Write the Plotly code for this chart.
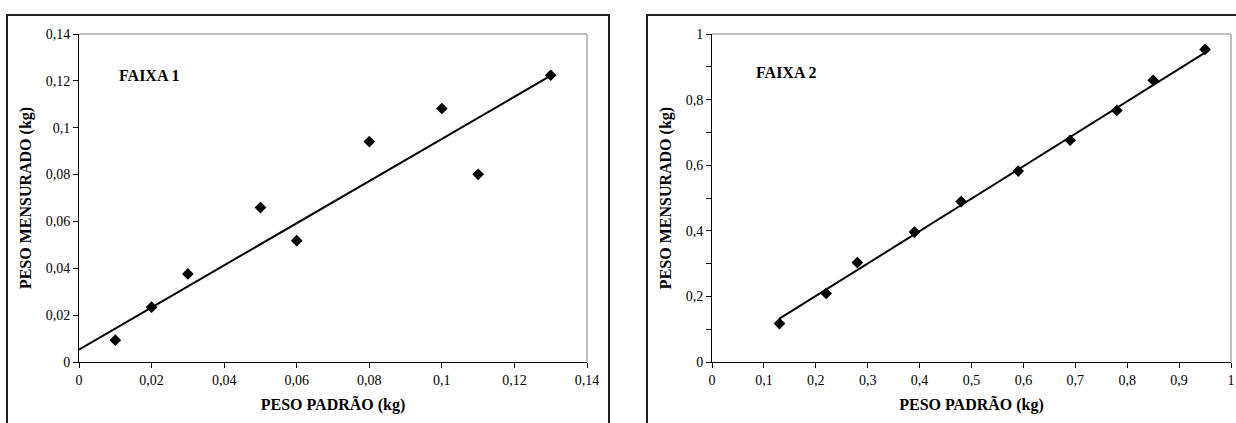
import plotly.graph_objects as go

W, H = 1236, 423

# ---- data ----
f1_padrao = [0.01, 0.02, 0.03, 0.05, 0.06, 0.08, 0.10, 0.11, 0.13]
f1_mensurado = [0.0093, 0.0234, 0.0376, 0.0659, 0.0518, 0.0941, 0.1082, 0.0801, 0.1224]
f1_trend_x = [0.0, 0.13]
f1_trend_y = [0.0053, 0.1222]

f2_padrao = [0.13, 0.22, 0.28, 0.39, 0.48, 0.59, 0.69, 0.78, 0.85, 0.95]
f2_mensurado = [0.117, 0.209, 0.303, 0.396, 0.489, 0.582, 0.676, 0.767, 0.859, 0.953]
f2_trend_x = [0.13, 0.95]
f2_trend_y = [0.132, 0.943]

f1_ticks = [0, 0.02, 0.04, 0.06, 0.08, 0.10, 0.12, 0.14]
f1_ticktext = ["0", "0,02", "0,04", "0,06", "0,08", "0,1", "0,12", "0,14"]
f2_xticks = [0, 0.1, 0.2, 0.3, 0.4, 0.5, 0.6, 0.7, 0.8, 0.9, 1.0]
f2_xticktext = ["0", "0,1", "0,2", "0,3", "0,4", "0,5", "0,6", "0,7", "0,8", "0,9", "1"]
f2_yticks = [0, 0.2, 0.4, 0.6, 0.8, 1.0]
f2_yticktext = ["0", "0,2", "0,4", "0,6", "0,8", "1"]
f2_yminor = [0.1, 0.3, 0.5, 0.7, 0.9]

x_title = "PESO PADRÃO (kg)"
y_title = "PESO MENSURADO (kg)"
labels = ["FAIXA 1", "FAIXA 2"]

FONT = "Liberation Serif"


def px(x):
    return x / W


def py(y):
    return 1 - y / H


fig = go.Figure()
marker = dict(symbol="diamond", size=9, color="black")
line = dict(color="black", width=2)

fig.add_trace(go.Scatter(x=f1_padrao, y=f1_mensurado, mode="markers", marker=marker,
                         xaxis="x", yaxis="y", showlegend=False))
fig.add_trace(go.Scatter(x=f1_trend_x, y=f1_trend_y, mode="lines", line=line,
                         xaxis="x", yaxis="y", showlegend=False))
fig.add_trace(go.Scatter(x=f2_padrao, y=f2_mensurado, mode="markers", marker=marker,
                         xaxis="x2", yaxis="y2", showlegend=False))
fig.add_trace(go.Scatter(x=f2_trend_x, y=f2_trend_y, mode="lines", line=line,
                         xaxis="x2", yaxis="y2", showlegend=False))

tickfont = dict(family=FONT, size=14, color="black")
titlefont = dict(family=FONT, size=16, color="black", weight="bold")

common = dict(showgrid=False, zeroline=False, showline=True, linecolor="black", linewidth=1,
              ticks="outside", ticklen=5, tickcolor="black", tickwidth=1,
              tickfont=tickfont, automargin=False, mirror=False,
              ticklabeloverflow="allow")

ydom = [py(362), py(34)]

fig.update_layout(
    width=W, height=H,
    margin=dict(l=0, r=0, t=0, b=0),
    paper_bgcolor="white", plot_bgcolor="white",
    font=dict(family=FONT, color="black"),
    xaxis=dict(domain=[px(79), px(587)], range=[0, 0.14], tickmode="array",
               tickvals=f1_ticks, ticktext=f1_ticktext,
               title=dict(text=x_title, font=titlefont, standoff=12), anchor="y", **common),
    yaxis=dict(domain=ydom, range=[0, 0.14], tickmode="array",
               tickvals=f1_ticks, ticktext=f1_ticktext,
               title=dict(text=y_title, font=titlefont, standoff=10), anchor="x", **common),
    xaxis2=dict(domain=[px(712), px(1231)], range=[0, 1], tickmode="array",
                tickvals=f2_xticks, ticktext=f2_xticktext,
                title=dict(text=x_title, font=titlefont, standoff=12), anchor="y2", **common),
    yaxis2=dict(domain=ydom, range=[0, 1], tickmode="array",
                tickvals=f2_yticks, ticktext=f2_yticktext,
                minor=dict(tickmode="array", tickvals=f2_yminor, ticks="outside", ticklen=5,
                           tickcolor="black", tickwidth=1, showgrid=False),
                title=dict(text=y_title, font=titlefont, standoff=10), anchor="x2", **common),
)

# plot-area top/right borders (gray)
for xr, yr in (("x domain", "y domain"), ("x2 domain", "y2 domain")):
    fig.add_shape(type="line", xref=xr, yref=yr, x0=0, x1=1, y0=1, y1=1,
                  line=dict(color="#808080", width=1))
    fig.add_shape(type="line", xref=xr, yref=yr, x0=1, x1=1, y0=0, y1=1,
                  line=dict(color="#808080", width=1))

# outer chart frames
frame = dict(color="#222222", width=2)
fig.add_shape(type="path", xref="paper", yref="paper",
              path=f"M {px(7)},{py(430)} L {px(7)},{py(15)} L {px(609)},{py(15)} L {px(609)},{py(430)}",
              line=frame)
fig.add_shape(type="path", xref="paper", yref="paper",
              path=f"M {px(647)},{py(430)} L {px(647)},{py(15)} L {px(1240)},{py(15)}",
              line=frame)

# panel labels
fig.add_annotation(x=px(117), y=py(75), xref="paper", yref="paper", text=labels[0],
                   showarrow=False, xanchor="left", yanchor="middle",
                   font=dict(family=FONT, size=16, color="black", weight="bold"))
fig.add_annotation(x=px(754), y=py(72), xref="paper", yref="paper", text=labels[1],
                   showarrow=False, xanchor="left", yanchor="middle",
                   font=dict(family=FONT, size=16, color="black", weight="bold"))

fig.write_html("out.html", config={"displayModeBar": False},
               post_script="document.body.style.margin='0';document.body.style.overflow='hidden';")
